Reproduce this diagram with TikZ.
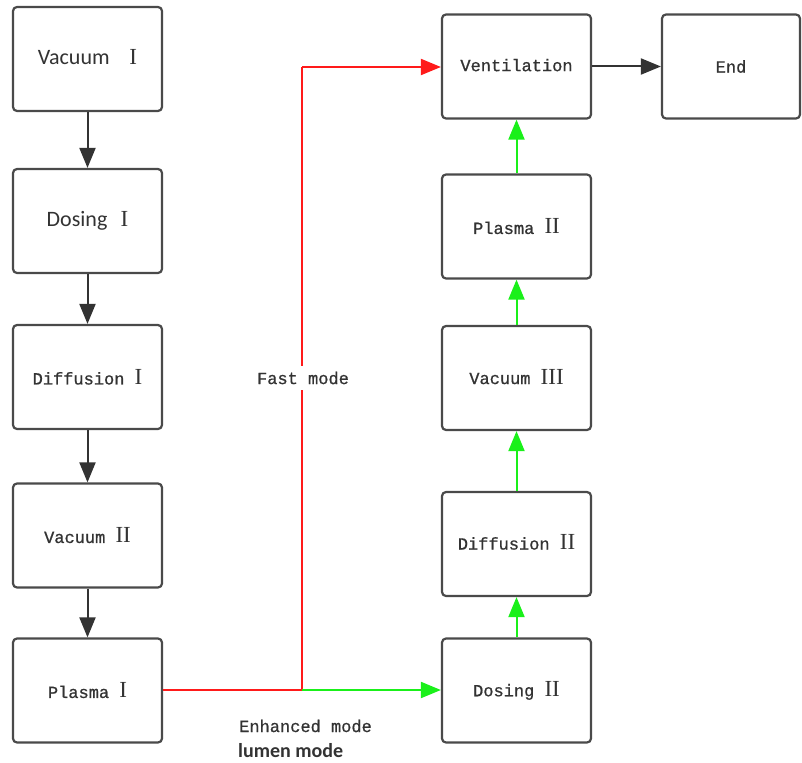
\documentclass[tikz,border=0pt]{standalone}
\usepackage{fontspec}
\setmainfont{Liberation Serif}
\newfontfamily\monof[FakeBold=0.8]{Liberation Mono}
\newfontfamily\sansf{Carlito}
\newfontfamily\romf{Liberation Serif}
\usetikzlibrary{arrows.meta}
\definecolor{boxc}{HTML}{4A4A4A}
\definecolor{arrc}{HTML}{333333}
\definecolor{redc}{HTML}{FF1A1A}
\definecolor{grnc}{HTML}{1AF01A}
\newcommand{\rn}[1]{{\romf\fontsize{23}{23}\selectfont #1}}
\tikzset{
  stepbox/.style={draw=boxc, line width=2.2pt, rounded corners=4pt, fill=white,
    minimum width=149pt, minimum height=104pt, inner sep=0pt, text=arrc,
    font=\monof\fontsize{17}{17}\selectfont},
  sbox/.style={stepbox, font=\sansf\fontsize{22}{22}\selectfont},
  darr/.style={draw=arrc, line width=2pt, -{Triangle[length=20pt,width=16pt]}},
  garr/.style={draw=grnc, line width=2pt, -{Triangle[length=20pt,width=16pt]}},
  rarr/.style={draw=redc, line width=2pt},
  lbl/.style={text=arrc, font=\monof\fontsize{17}{17}\selectfont, inner sep=2pt},
}
\begin{document}
\begin{tikzpicture}[x=1pt,y=-1pt]
\useasboundingbox (0,0) rectangle (802,762);
% left column
\node[sbox] (v1) at (87.5,59) {\raisebox{4pt}{Vacuum\hspace{0.9em}\rn{I}}};
\node[sbox] (d1) at (87.5,221) {\raisebox{-2pt}{Dosing\hspace{0.6em}\rn{I}}};
\node[stepbox] (f1) at (87.5,377) {\raisebox{-3pt}{Diffusion \rn{I}}};
\node[stepbox] (v2) at (87.5,535.5) {Vacuum \rn{II}};
\node[stepbox] (p1) at (87.5,690.5) {\raisebox{-7pt}{Plasma \rn{I}}};
% right column
\node[stepbox] (ve) at (516.5,66.5) {\raisebox{3pt}{Ventilation}};
\node[stepbox, minimum width=138pt] (en) at (731,66.5) {End};
\node[stepbox] (p2) at (516.5,226.5) {\raisebox{-1pt}{Plasma \rn{II}}};
\node[stepbox] (v3) at (516.5,378) {\raisebox{3pt}{Vacuum \rn{III}}};
\node[stepbox] (f2) at (516.5,544) {\raisebox{4pt}{Diffusion \rn{II}}};
\node[stepbox] (d2) at (516.5,690.5) {\raisebox{-2pt}{Dosing \rn{II}}};
% left chain
\draw[darr] (v1) -- (d1);
\draw[darr] (d1) -- (f1);
\draw[darr] (f1) -- (v2);
\draw[darr] (v2) -- (p1);
% right chain
\draw[garr] (d2) -- (f2);
\draw[garr] (f2) -- (v3);
\draw[garr] (v3) -- (p2);
\draw[garr] (p2) -- (ve);
\draw[darr] (ve) -- (en);
% branches
\coordinate (j) at (302,690);
\coordinate (t) at (302,67);
\draw[rarr] (p1.east |- j) -- (j) -- (t);
\draw[rarr, -{Triangle[length=20pt,width=16pt]}] (t) -- (ve.west |- t);
\draw[garr] (j) -- (d2.west |- j);
\node[lbl, fill=white, inner ysep=6pt] (fast) at (303,378) {Fast mode};
\node[lbl, anchor=base west] (enh) at (237,732) {Enhanced mode};
\node[anchor=base west, inner sep=1pt, text=arrc, font=\sansf\bfseries\fontsize{20}{20}\selectfont] (lum) at (237,757) {lumen mode};
\end{tikzpicture}
\end{document}
